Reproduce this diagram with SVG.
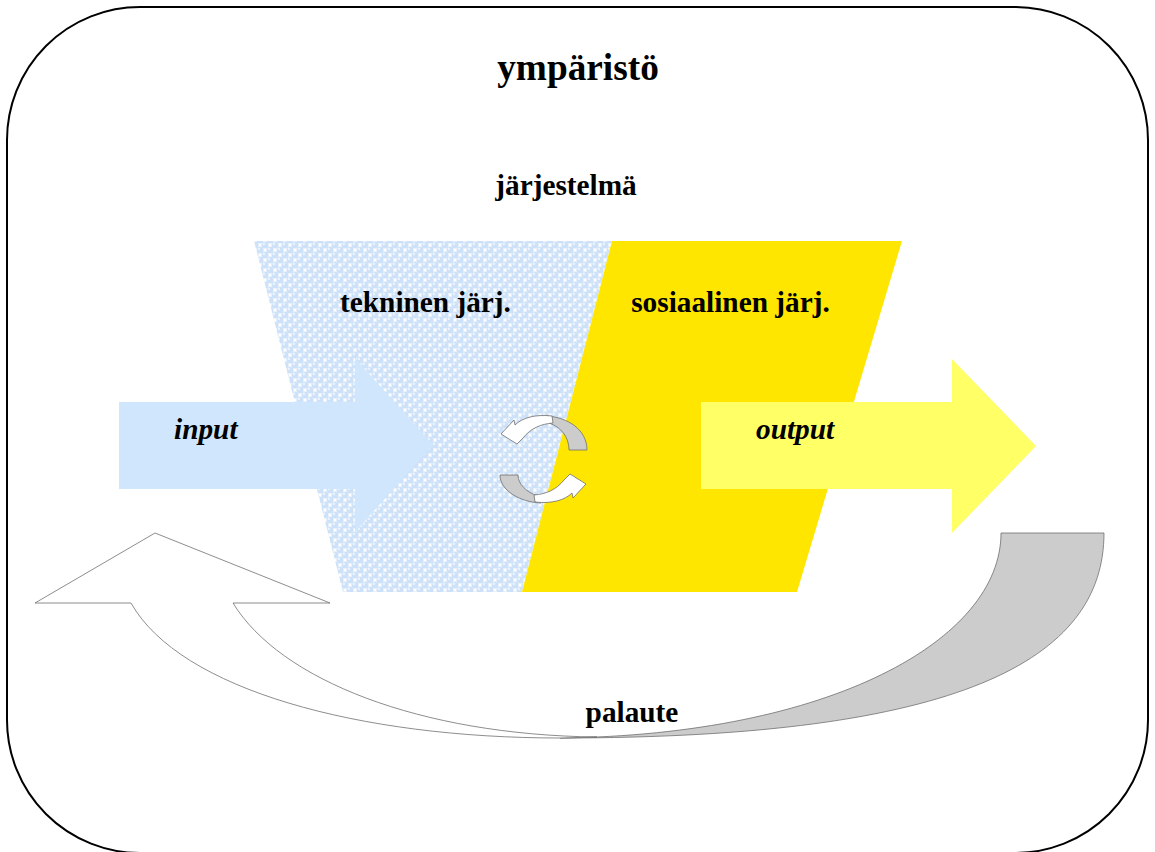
<svg xmlns="http://www.w3.org/2000/svg" width="1155" height="852" viewBox="0 0 1155 852">
  <style>
    .lbl { font-family: "Liberation Serif", "Times New Roman", serif; font-weight: bold; fill: #000; }
    .big { font-size: 37.3px; }
    .mid { font-size: 29.3px; }
    .it { font-style: italic; }
    .edge { stroke: #707070; stroke-width: 0.8; stroke-linejoin: round; }
    .front { fill: #ffffff; }
    .back { fill: #cccccc; }
  </style>
  <defs>
    <!-- bubble texture for the technical part -->
    <pattern id="bubbles" width="10" height="10" patternUnits="userSpaceOnUse">
      <rect width="10" height="10" fill="#ffffff"/>
      <g fill="#cde2f9">
        <circle cx="0" cy="0" r="3.6"/>
        <circle cx="10" cy="0" r="3.6"/>
        <circle cx="0" cy="10" r="3.6"/>
        <circle cx="10" cy="10" r="3.6"/>
        <circle cx="5" cy="5" r="3.6"/>
      </g>
      <g fill="#eaf3fd">
        <circle cx="3.9" cy="3.9" r="1.3"/>
        <circle cx="8.9" cy="8.9" r="1.3"/>
      </g>
    </pattern>
  </defs>

  <rect width="1155" height="852" fill="#ffffff"/>

  <!-- environment frame -->
  <g id="environment">
    <rect x="7" y="7" width="1141" height="846" rx="133" ry="133" fill="none" stroke="#000" stroke-width="2"/>
    <text class="lbl big" x="578" y="80" text-anchor="middle">ympäristö</text>
  </g>

  <!-- system -->
  <g id="system">
    <text class="lbl mid" x="566" y="195" text-anchor="middle">järjestelmä</text>
  </g>

  <g id="technical">
    <polygon points="254,241 612,241 522,592 343,592" fill="url(#bubbles)"/>
    <text class="lbl mid" x="425.5" y="312" text-anchor="middle">tekninen järj.</text>
  </g>

  <g id="social">
    <polygon points="612,241 902,241 797,592 522,592" fill="#ffe600"/>
    <text class="lbl mid" x="730.5" y="312" text-anchor="middle">sosiaalinen järj.</text>
  </g>

  <g id="input">
    <polygon points="119,402 355,402 355,358 433,445 355,532 355,489 119,489" fill="#d0e6fc"/>
    <text class="lbl mid it" x="174" y="439">input</text>
  </g>

  <g id="output">
    <polygon points="701,402 952,402 952,359 1036,446 952,533 952,489 701,489" fill="#ffff66"/>
    <text class="lbl mid it" x="756" y="439">output</text>
  </g>

  <!-- interaction between the two subsystems -->
  <g id="interaction">
    <path class="back edge" d="M546,416 C568,417 587,430 587,450 L569,450 C569,437 561,427 549,423 Z"/>
    <path class="front edge" d="M552,416 C535,414 522,418 515,425 L514,420 L501,434 L517,444 L523,438 C531,428 541,424 553,423 Z"/>
    <path class="back edge" d="M541,503 C519,502 500,490 500,475 L518,475 C518,484 526,492 538,496 Z"/>
    <path class="front edge" d="M535,502 C552,504 565,500 572,493 L573,498 L586,484 L570,474 L564,480 C556,490 546,494 534,495 Z"/>
  </g>

  <!-- feedback loop -->
  <g id="connectors">
    <path class="back edge" d="M1001,533 L1104,533 C1104,660 960,738 560,738 C830,735 1001,640 1001,533 Z"/>
    <path class="front edge" d="M35,603 L155,533 L330,603 L233,603 C280,680 420,735 597,737 L560,738 C360,738 180,690 131,603 Z"/>
    <text class="lbl mid" x="632" y="722" text-anchor="middle">palaute</text>
  </g>
</svg>
